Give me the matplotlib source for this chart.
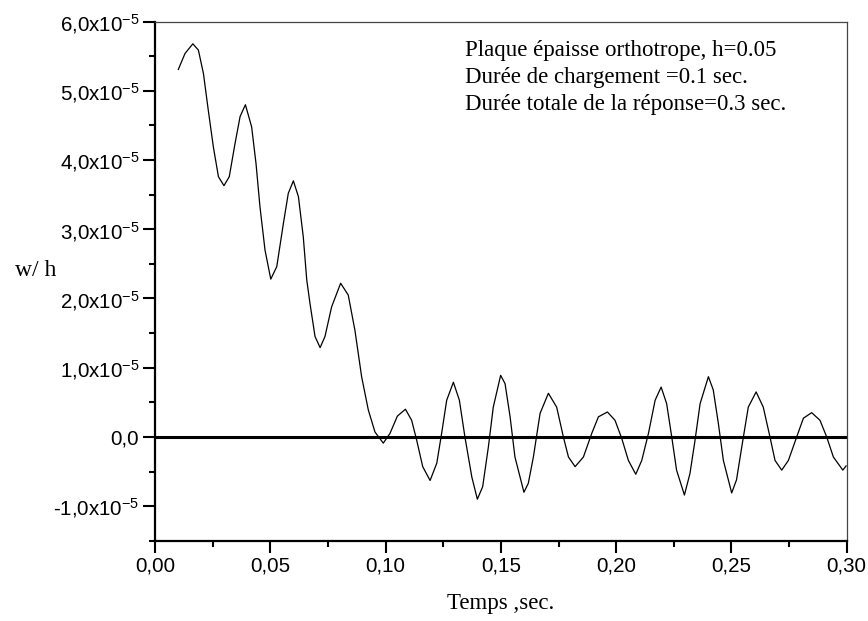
import matplotlib
matplotlib.use("Agg")
import matplotlib.pyplot as plt
from matplotlib.ticker import MultipleLocator, FixedLocator, FixedFormatter

# points (time in s, w/h in units of 1e-5)
t = [0.0101, 0.0130, 0.0164, 0.0188, 0.0210, 0.0231, 0.0253, 0.0275, 0.0299,
     0.0322, 0.0347, 0.0369, 0.0392, 0.0419, 0.0438, 0.0455, 0.0477, 0.0502,
     0.0528, 0.0557, 0.0578, 0.0600, 0.0622, 0.0643, 0.0658, 0.0672, 0.0694,
     0.0716, 0.0737, 0.0766, 0.0805, 0.0838, 0.0867, 0.0896, 0.0925, 0.0954,
     0.0990, 0.1019, 0.1051, 0.1086, 0.1113, 0.1135, 0.1161, 0.1193, 0.1222,
     0.1243, 0.1265, 0.1294, 0.1320, 0.1344, 0.1374, 0.1398, 0.1421, 0.1446,
     0.1467, 0.1499, 0.1518, 0.1540, 0.1561, 0.1600, 0.1619, 0.1641, 0.1670,
     0.1706, 0.1742, 0.1771, 0.1793, 0.1822, 0.1858, 0.1894, 0.1923, 0.1962,
     0.1995, 0.2024, 0.2053, 0.2085, 0.2111, 0.2140, 0.2169, 0.2195, 0.2219,
     0.2241, 0.2262, 0.2296, 0.2320, 0.2342, 0.2364, 0.2400, 0.2421, 0.2443,
     0.2465, 0.2501, 0.2522, 0.2545, 0.2573, 0.2607, 0.2638, 0.2667, 0.2689,
     0.2718, 0.2747, 0.2783, 0.2812, 0.2848, 0.2884, 0.2913, 0.2942, 0.2983,
     0.2997]
w = [5.31, 5.54, 5.68, 5.59, 5.25, 4.72, 4.19, 3.76, 3.63,
     3.76, 4.24, 4.63, 4.80, 4.48, 3.95, 3.33, 2.70, 2.28,
     2.46, 3.09, 3.52, 3.70, 3.47, 2.89, 2.27, 1.93, 1.45,
     1.29, 1.45, 1.88, 2.22, 2.05, 1.54, 0.87, 0.39, 0.07,
     -0.09, 0.05, 0.30, 0.40, 0.24, -0.05, -0.43, -0.63, -0.38,
     0.05, 0.53, 0.79, 0.53, 0.00, -0.58, -0.90, -0.72, -0.14,
     0.43, 0.89, 0.77, 0.29, -0.29, -0.80, -0.67, -0.29, 0.34,
     0.63, 0.43, 0.00, -0.29, -0.43, -0.29, 0.05, 0.29, 0.36,
     0.24, -0.02, -0.34, -0.54, -0.34, 0.05, 0.53, 0.72, 0.48,
     0.00, -0.48, -0.84, -0.53, -0.05, 0.48, 0.87, 0.68, 0.20,
     -0.34, -0.81, -0.62, -0.14, 0.43, 0.65, 0.43, 0.00, -0.34,
     -0.48, -0.34, 0.00, 0.27, 0.35, 0.24, 0.00, -0.29, -0.48,
     -0.42]
w = [v * 1e-5 for v in w]

yticks = [-1.0e-5, 0.0, 1.0e-5, 2.0e-5, 3.0e-5, 4.0e-5, 5.0e-5, 6.0e-5]
ylabels = ["-1,0x10$^{-5}$", "0,0", "1,0x10$^{-5}$", "2,0x10$^{-5}$", "3,0x10$^{-5}$",
           "4,0x10$^{-5}$", "5,0x10$^{-5}$", "6,0x10$^{-5}$"]
xticks = [0.00, 0.05, 0.10, 0.15, 0.20, 0.25, 0.30]
xlabels = ["0,00", "0,05", "0,10", "0,15", "0,20", "0,25", "0,30"]
notes = ["Plaque épaisse orthotrope, h=0.05",
         "Durée de chargement =0.1 sec.",
         "Durée totale de la réponse=0.3 sec."]

plt.rcParams['mathtext.fontset'] = 'custom'
plt.rcParams['mathtext.rm'] = 'Liberation Sans'
plt.rcParams['mathtext.it'] = 'Liberation Sans'

fig = plt.figure(figsize=(8.68, 6.21), dpi=100)
ax = fig.add_axes([0.1786, 0.1293, 0.9755 - 0.1786, 0.9651 - 0.1293])

ax.axhline(0, color='black', lw=2.2, zorder=2)
ax.plot(t, w, color='black', lw=0.9, zorder=3)

ax.set_xlim(0, 0.30)
ax.set_ylim(-1.5e-5, 6.0e-5)

ax.xaxis.set_major_locator(FixedLocator(xticks))
ax.xaxis.set_major_formatter(FixedFormatter(xlabels))
ax.xaxis.set_minor_locator(MultipleLocator(0.025))
ax.yaxis.set_major_locator(FixedLocator(yticks))
ax.yaxis.set_major_formatter(FixedFormatter(ylabels))
ax.yaxis.set_minor_locator(MultipleLocator(0.5e-5))

ax.tick_params(which='major', direction='out', length=8.5, width=1.5,
               labelsize=14.8, pad=3)
ax.tick_params(which='minor', direction='out', length=4.3, width=1.5)
ax.tick_params(top=False, right=False, which='both')
for lab in ax.get_xticklabels() + ax.get_yticklabels():
    lab.set_fontfamily('Liberation Sans')

for side in ['left', 'bottom']:
    ax.spines[side].set_linewidth(1.6)
for side in ['top', 'right']:
    ax.spines[side].set_linewidth(0.9)
    ax.spines[side].set_color('#444444')

for i, line in enumerate(notes):
    fig.text(465 / 868, 1 - (56 + 27 * i) / 621, line, family='Liberation Serif',
             fontsize=16.5, va='baseline', ha='left')

fig.text(501 / 868, 1 - 604 / 621, "Temps ,sec.", family='Liberation Serif',
         fontsize=16.5, ha='center', va='center')
fig.text(36 / 868, 1 - 271 / 621, "w/ h", family='Liberation Serif',
         fontsize=17, ha='center', va='center')

fig.savefig("out.png", dpi=100)
